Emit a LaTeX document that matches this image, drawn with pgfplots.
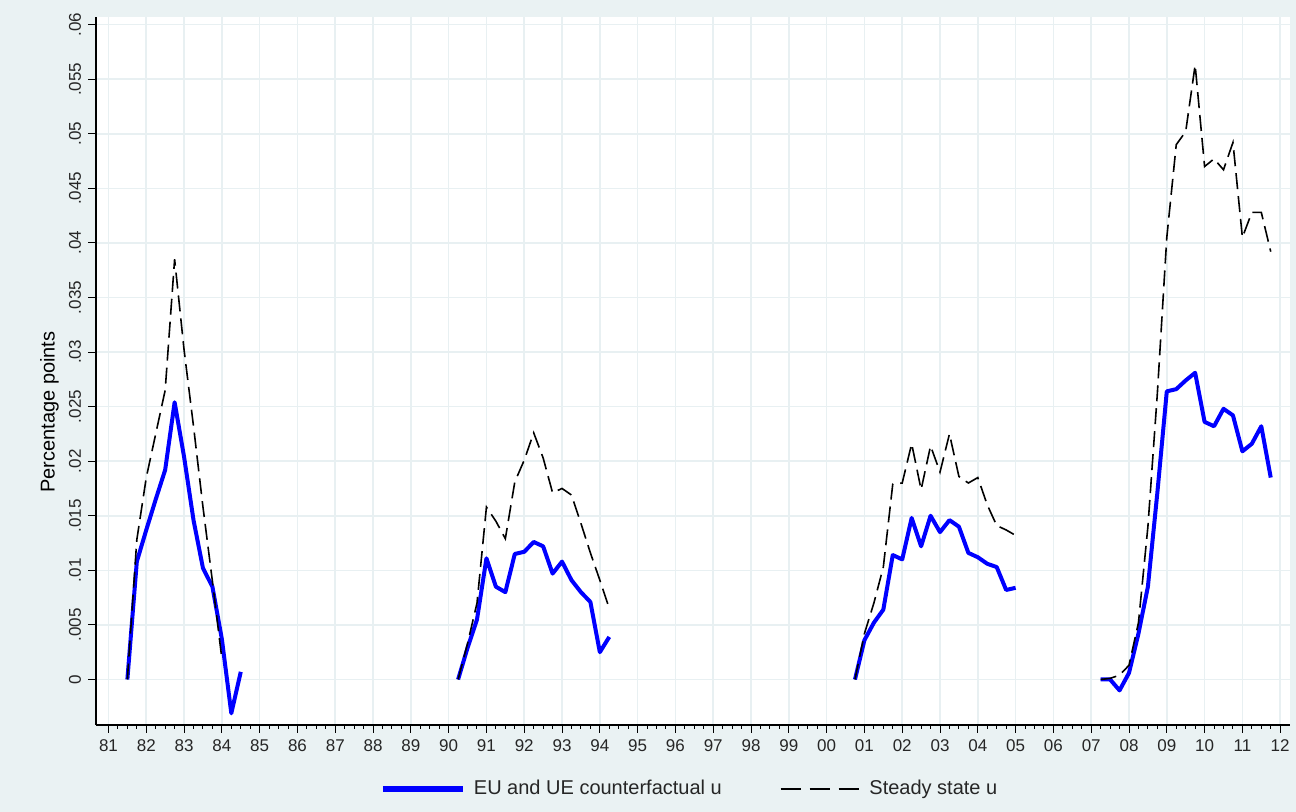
\documentclass[border=0pt]{standalone}
\usepackage{fontspec}
\setmainfont{Liberation Sans}
\usepackage{pgfplots}
\pgfplotsset{compat=1.18}
\definecolor{bgc}{RGB}{234,242,243}
\definecolor{gridc}{RGB}{232,240,242}
\definecolor{sblue}{RGB}{0,0,255}
\begin{document}
\begin{tikzpicture}[x=1pt,y=1pt]
\fill[bgc] (0,0) rectangle (648,406);
\useasboundingbox (0,0) rectangle (648,406);
\begin{axis}[
  at={(48pt,43.5pt)}, anchor=south west,
  scale only axis, width=597pt, height=354pt,
  xmin=1980.67, xmax=2012.26, ymin=-0.00417, ymax=0.0607,
  axis background/.style={fill=white},
  axis x line*=bottom, axis y line*=left,
  axis line style={-, black, line width=0.6pt},
  tick align=outside,
  major tick length=4pt, minor tick length=2pt,
  every tick/.style={black, line width=0.5pt},
  scaled y ticks=false, scaled x ticks=false,
  xtick={1981,1982,1983,1984,1985,1986,1987,1988,1989,1990,1991,1992,1993,1994,1995,1996,1997,1998,1999,2000,2001,2002,2003,2004,2005,2006,2007,2008,2009,2010,2011,2012},
  xticklabels={81,82,83,84,85,86,87,88,89,90,91,92,93,94,95,96,97,98,99,00,01,02,03,04,05,06,07,08,09,10,11,12},
  minor x tick num=3,
  ytick={0,0.005,0.01,0.015,0.02,0.025,0.03,0.035,0.04,0.045,0.05,0.055,0.06},
  yticklabels={0,.005,.01,.015,.02,.025,.03,.035,.04,.045,.05,.055,.06},
  /pgf/number format/assume math mode=true,
  ticklabel style={font=\fontsize{8.5}{10}\selectfont, text=black!85},
  yticklabel style={rotate=90, anchor=south, xshift=0pt},
  grid=major,
  major grid style={gridc, line width=0.8pt},
  ylabel={Percentage points},
  ylabel style={font=\fontsize{8.5}{10}\selectfont, text=black!85},
  every axis y label/.style={at={(axis description cs:-0.039,0.442)}, rotate=90, anchor=center},
  legend style={at={(axis description cs:0.498,-0.0904)}, anchor=center, draw=none, fill=none,
    font=\fontsize{10}{12}\selectfont, text=black!85,
    /tikz/every even column/.append style={column sep=27pt},
    /tikz/every odd column/.append style={column sep=2pt}},
  legend columns=2,
  legend cell align=left,
]
% ---- EU and UE counterfactual u ----
\addplot[sblue, line width=2pt, line join=round,
  legend image code/.code={\draw[sblue, line width=3pt] (0pt,0pt) -- (40pt,0pt);}]
  coordinates {(1981.5,0)(1981.75,0.0108)(1982,0.0137)(1982.25,0.0165)(1982.5,0.0192)(1982.75,0.0254)(1983,0.0204)(1983.25,0.0146)(1983.5,0.0102)(1983.75,0.0085)(1984,0.0037)(1984.25,-0.0031)(1984.5,0.0007)};
\addlegendentry{EU and UE counterfactual u}
\addplot[forget plot, sblue, line width=2pt, line join=round]
  coordinates {(1990.25,0)(1990.5,0.0029)(1990.75,0.0055)(1991,0.0111)(1991.25,0.0085)(1991.5,0.0080)(1991.75,0.0115)(1992,0.0117)(1992.25,0.0126)(1992.5,0.0122)(1992.75,0.0097)(1993,0.0108)(1993.25,0.0091)(1993.5,0.0080)(1993.75,0.0071)(1994,0.0025)(1994.25,0.0039)};
\addplot[forget plot, sblue, line width=2pt, line join=round]
  coordinates {(2000.75,0)(2001,0.0036)(2001.25,0.0052)(2001.5,0.0064)(2001.75,0.0114)(2002,0.0110)(2002.25,0.0148)(2002.5,0.0122)(2002.75,0.0150)(2003,0.0135)(2003.25,0.0146)(2003.5,0.0140)(2003.75,0.0116)(2004,0.0112)(2004.25,0.0106)(2004.5,0.0103)(2004.75,0.0082)(2005,0.0084)};
\addplot[forget plot, sblue, line width=2pt, line join=round]
  coordinates {(2007.25,0)(2007.5,0)(2007.75,-0.0010)(2008,0.0006)(2008.25,0.0042)(2008.5,0.0085)(2008.75,0.0171)(2009,0.0264)(2009.25,0.0266)(2009.5,0.0274)(2009.75,0.0281)(2010,0.0236)(2010.25,0.0232)(2010.5,0.0248)(2010.75,0.0242)(2011,0.0209)(2011.25,0.0216)(2011.5,0.0232)(2011.75,0.0185)};
% ---- Steady state u ----
\addplot[black, line width=0.8pt, dash pattern=on 8pt off 3.5pt,
  legend image code/.code={\draw[black, line width=0.8pt, dash pattern=on 10pt off 4.5pt] (0pt,0pt) -- (40pt,0pt);}]
  coordinates {(1981.5,0)(1981.75,0.0128)(1982,0.0185)(1982.25,0.0225)(1982.5,0.0265)(1982.75,0.0385)(1983,0.0302)(1983.25,0.0232)(1983.5,0.0158)(1983.75,0.0090)(1984,0.0019)};
\addlegendentry{Steady state u}
\addplot[forget plot, black, line width=0.8pt, dash pattern=on 8pt off 3.5pt]
  coordinates {(1990.25,0)(1990.5,0.0033)(1990.75,0.0070)(1991,0.0158)(1991.25,0.0145)(1991.5,0.0129)(1991.75,0.0181)(1992,0.0201)(1992.25,0.0226)(1992.5,0.0203)(1992.75,0.0171)(1993,0.0175)(1993.25,0.0169)(1993.5,0.0143)(1993.75,0.0116)(1994,0.0091)(1994.25,0.0065)};
\addplot[forget plot, black, line width=0.8pt, dash pattern=on 8pt off 3.5pt]
  coordinates {(2000.75,0)(2001,0.0042)(2001.25,0.0070)(2001.5,0.0103)(2001.75,0.0179)(2002,0.0180)(2002.25,0.0216)(2002.5,0.0174)(2002.75,0.0214)(2003,0.0190)(2003.25,0.0225)(2003.5,0.0186)(2003.75,0.0180)(2004,0.0185)(2004.25,0.0160)(2004.5,0.0141)(2004.75,0.0137)(2005,0.0132)};
\addplot[forget plot, black, line width=0.8pt, dash pattern=on 8pt off 3.5pt]
  coordinates {(2007.25,0)(2007.5,0.0001)(2007.75,0.0004)(2008,0.0013)(2008.25,0.0052)(2008.5,0.0140)(2008.75,0.0262)(2009,0.0405)(2009.25,0.0490)(2009.5,0.0502)(2009.75,0.0563)(2010,0.0470)(2010.25,0.0477)(2010.5,0.0467)(2010.75,0.0492)(2011,0.0405)(2011.25,0.0428)(2011.5,0.0428)(2011.75,0.0392)};
\end{axis}
\end{tikzpicture}
\end{document}
